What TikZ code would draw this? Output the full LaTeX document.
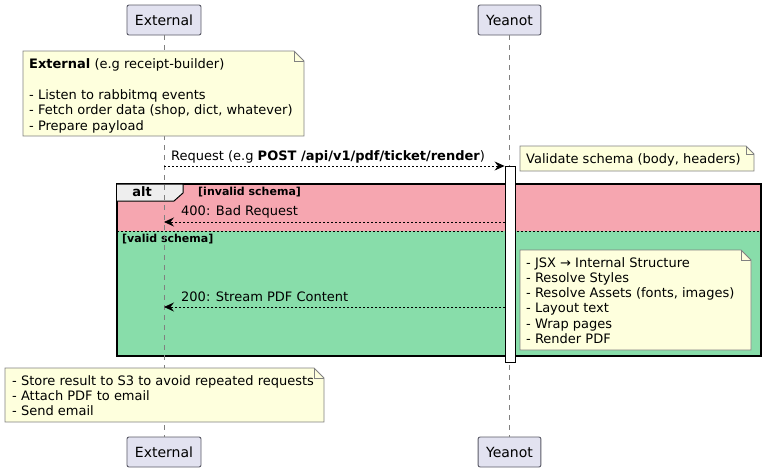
\documentclass[tikz,border=0pt]{standalone}
\usepackage{fontspec}
\setmainfont{DejaVu Sans}
\usetikzlibrary{arrows.meta}

\definecolor{partfill}{HTML}{E2E2F0}
\definecolor{partline}{HTML}{5A5A66}
\definecolor{notefill}{HTML}{FEFFDD}
\definecolor{noteline}{HTML}{818181}
\definecolor{altpink}{HTML}{F6A6B0}
\definecolor{altgreen}{HTML}{88DDAA}
\definecolor{tabgray}{HTML}{EEEEEE}

\tikzset{
  participant/.style={draw=partline, fill=partfill, rounded corners=2pt, line width=0.9pt,
    minimum height=30pt, inner xsep=8pt, font=\fontsize{14}{16}\selectfont},
  lifeline/.style={draw=gray, line width=0.8pt, dash pattern=on 5pt off 5pt},
  message/.style={line width=0.8pt, dash pattern=on 2pt off 2pt,
    -{Stealth[length=10pt,width=9pt,inset=3.5pt]}},
  msglabel/.style={anchor=west, inner sep=0pt, font=\fontsize{13}{15}\selectfont},
  notebox/.style={draw=noteline, fill=notefill, line width=0.9pt},
  notetext/.style={anchor=north west, align=left, inner sep=0pt,
    font=\fontsize{13}{15.3}\selectfont},
  guard/.style={anchor=west, inner sep=0pt, font=\fontsize{11}{13}\selectfont\bfseries},
}

\begin{document}
\begin{tikzpicture}[x=1pt, y=-1pt]
  \useasboundingbox (0,0) rectangle (766,472);

  % alt frame background
  \fill[altpink] (117,184) rectangle (761,231);
  \fill[altgreen] (117,231) rectangle (761,356);
  \draw[line width=0.8pt, dash pattern=on 2pt off 2pt] (117,231) -- (761,231);
  \draw[line width=1.5pt] (117,184) rectangle (761,356);
  % tab
  \draw[fill=tabgray, line width=1pt] (117,184) -- (183,184) -- (183,193)
    -- (174,201) -- (117,201);
  \node[font=\fontsize{13}{15}\selectfont\bfseries] (alt) at (142,192) {alt};
  \node[guard] (invalid) at (198,192) {[invalid schema]};
  \node[guard] (valid) at (122,239) {[valid schema]};

  % participants
  \node[participant] (exttop) at (164,20) {External};
  \node[participant] (yeatop) at (509.5,20) {Yeanot};
  \node[participant] (extbot) at (164,452) {External};
  \node[participant] (yeabot) at (509.5,452) {Yeanot};
  % lifelines
  \draw[lifeline] (exttop) -- (extbot);
  \draw[lifeline] (yeatop) -- (yeabot);

  % activation
  \node[draw, fill=white, line width=0.9pt, minimum width=10pt, minimum height=196pt,
    inner sep=0pt, anchor=north] (bar) at (510,166) {};

  % note External
  \draw[notebox] (23,51) -- (294,51) -- (304,61) -- (304,136) -- (23,136) -- cycle;
  \draw[noteline, line width=0.9pt] (294,51) -- (294,61) -- (304,61);
  \node[notetext] (extnote) at (29,58.5) {\textbf{External} (e.g receipt-builder)\\[15.6pt]
    - Listen to rabbitmq events\\
    - Fetch order data (shop, dict, whatever)\\
    - Prepare payload};

  % request
  \coordinate (reqs) at (164,166);
  \draw[message] (reqs) -- (bar.north west);
  \node[msglabel] (reqlabel) at (171,157) {Request (e.g \textbf{POST /api/v1/pdf/ticket/render})};

  % note Validate
  \draw[notebox] (520,146) -- (746,146) -- (754,154) -- (754,171) -- (520,171) -- cycle;
  \draw[noteline, line width=0.9pt] (746,146) -- (746,154) -- (754,154);
  \node[msglabel] (valnote) at (526,160) {Validate schema (body, headers)};

  % 400
  \coordinate (bads) at (505,222);
  \coordinate (bade) at (164,222);
  \draw[message] (bads) -- (bade);
  \node[msglabel] (badlabel) at (181,212) {400: Bad Request};

  % note render
  \draw[notebox] (520,250) -- (741,250) -- (751,260) -- (751,350) -- (520,350) -- cycle;
  \draw[noteline, line width=0.9pt] (741,250) -- (741,260) -- (751,260);
  \node[notetext] (rendernote) at (526,257) {- JSX \textrightarrow{} Internal Structure\\
    - Resolve Styles\\
    - Resolve Assets (fonts, images)\\
    - Layout text\\
    - Wrap pages\\
    - Render PDF};

  % 200
  \coordinate (oks) at (505,307);
  \coordinate (oke) at (164,307);
  \draw[message] (oks) -- (oke);
  \node[msglabel] (oklabel) at (181,297) {200: Stream PDF Content};

  % note after
  \draw[notebox] (5,368) -- (314,368) -- (324,378) -- (324,422) -- (5,422) -- cycle;
  \draw[noteline, line width=0.9pt] (314,368) -- (314,378) -- (324,378);
  \node[notetext] (afternote) at (12,375) {- Store result to S3 to avoid repeated requests\\
    - Attach PDF to email\\
    - Send email};
\end{tikzpicture}
\end{document}
